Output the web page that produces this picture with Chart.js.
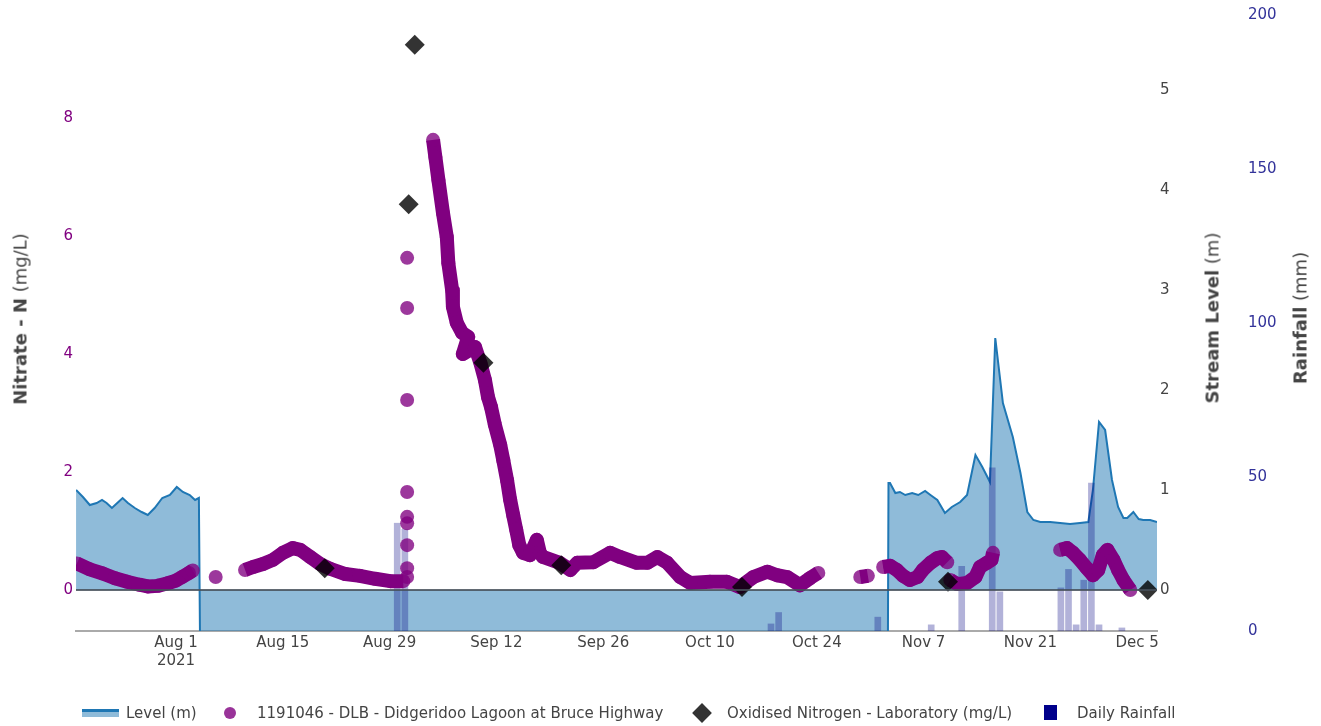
<!DOCTYPE html>
<html>
<head>
<meta charset="utf-8">
<script src="https://cdn.jsdelivr.net/npm/chart.js@4/dist/chart.umd.min.js"></script>
<style>
  html, body { margin: 0; padding: 0; background: #fff; }
  #wrap { position: relative; width: 1321px; height: 726px; font-family: 'DejaVu Sans', sans-serif; color: #444; }
  canvas { position: absolute; left: 0; top: 0; }
  .ttl { position: absolute; white-space: nowrap; font-size: 18px; color: #444;
         transform: translate(-50%, -50%) rotate(-90deg); }
  .ttl b { font-weight: bold; }
  .leg { position: absolute; top: 713px; transform: translateY(-50%); font-size: 15px; white-space: nowrap; color: #444; }
  .ico { position: absolute; top: 713px; }
</style>
</head>
<body>
<div id="wrap">
  <canvas id="chart" width="1321" height="726"></canvas>
  <div class="ttl" style="left:20px; top:319px;"><b>Nitrate - N</b> (mg/L)</div>
  <div class="ttl" style="left:1212px; top:318px;"><b>Stream Level</b> (m)</div>
  <div class="ttl" style="left:1300px; top:318px;"><b>Rainfall</b> (mm)</div>

  <div class="ico" style="left:82px; width:37px; height:5px; margin-top:-4px; border-top:3px solid #1f77b4; background:rgba(31,119,180,0.5);"></div>
  <div class="leg" style="left:126px;">Level (m)</div>
  <div class="ico" style="left:224px; width:12px; height:12px; margin-top:-6px; border-radius:50%; background:rgba(128,0,128,0.8);"></div>
  <div class="leg" style="left:257px;">1191046 - DLB - Didgeridoo Lagoon at Bruce Highway</div>
  <div class="ico" style="left:695px; width:14px; height:14px; margin-top:-7px; transform:rotate(45deg); background:#333;"></div>
  <div class="leg" style="left:727px;">Oxidised Nitrogen - Laboratory (mg/L)</div>
  <div class="ico" style="left:1044px; width:13px; height:15px; margin-top:-8px; background:#00008b;"></div>
  <div class="leg" style="left:1077px;">Daily Rainfall</div>
</div>
<script>
// days counted from 1 Aug 2021
const dateTicks  = [0, 14, 28, 42, 56, 70, 84, 98, 112, 126];
const dateLabels = [["Aug 1", "2021"], "Aug 15", "Aug 29", "Sep 12", "Sep 26", "Oct 10", "Oct 24", "Nov 7", "Nov 21", "Dec 5"];

const nitrateTicks = [0, 2, 4, 6, 8];
const levelTicks   = [0, 1, 2, 3, 4, 5];
const rainTicks    = [0, 50, 100, 150, 200];

// stream level (m); -1 marks the period with no level reading (plotted off scale)
const levelDays = [
  -13.1, -12.2, -11.3, -10.4, -9.7, -9.1, -8.4, -7.7, -7.0, -6.3, -5.4, -4.5, -3.7, -2.8, -1.8, -0.8,
  0.1, 0.9, 1.8, 2.5, 3.0, 3.2, 93.3, 93.4,
  93.6, 94.3, 94.9, 95.6, 96.5, 97.3, 98.2, 98.9, 99.8, 100.8, 101.7, 102.8, 103.7, 104.8, 105.7,
  106.7, 107.4, 108.4, 109.7, 110.7, 111.6, 112.4, 113.3, 114.6, 115.9, 117.2, 118.5, 119.6, 120.2,
  121.0, 121.8, 122.7, 123.5, 124.2, 124.7, 125.5, 126.2, 126.8, 127.7, 128.6
];
const levelValues = [
  1.00, 0.93, 0.85, 0.87, 0.90, 0.87, 0.82, 0.87, 0.92, 0.87, 0.82, 0.78, 0.75, 0.82, 0.92, 0.95,
  1.03, 0.98, 0.95, 0.90, 0.92, -1, -1, 1.07,
  1.07, 0.97, 0.98, 0.95, 0.97, 0.95, 0.99, 0.95, 0.90, 0.77, 0.83, 0.88, 0.95, 1.35, 1.23,
  1.08, 2.52, 1.87, 1.53, 1.17, 0.78, 0.70, 0.68, 0.68, 0.67, 0.66, 0.67, 0.68, 1.00,
  1.68, 1.60, 1.10, 0.83, 0.72, 0.72, 0.78, 0.71, 0.70, 0.70, 0.68
];

// continuous nitrate sensor (mg/L); null separates runs of readings
const nitrateDays = [
  -13.0, -11.3, -9.6, -8.0, -6.4, -4.8, -3.7, -2.4, -1.2, 0.0, 0.8, 1.7, 2.2, null,
  5.2, null,
  9.05, 10.1, 11.4, 12.7, 14.0, 15.3, 16.3, 17.6, 18.9, 20.2, 22.2, 24.1, 26.1, 28.1, 29.8, null,
  30.3, null, 30.3, null, 30.3, null, 30.3, null, 30.3, null, 30.3, null, 30.3, null, 30.3, null, 30.3, null,
  33.7, 34.0, 34.4, 35.0, 35.5, 35.7, 36.2, 36.3, 36.8, 37.5, 38.3, 37.6, 39.2, 39.9, 40.5, 40.9,
  41.3, 41.8, 42.5, 42.9, 43.4, 43.8, 44.2, 44.6, 45.0, 45.5, 46.4, 47.3, 47.7, 48.1, 50.3, 51.7,
  52.6, 54.7, 56.9, 58.2, 60.4, 61.8, 63.1, 64.4, 66.1, 67.4, 70.0, 72.2, 73.9, 75.7, 77.5, 78.8,
  80.1, 81.8, 83.1, 84.2, null,
  89.7, 90.7, null,
  92.7, 93.6, 94.5, 95.3, 96.2, 97.2, 97.9, 98.9, 99.8, 100.4, 101.1, null,
  101.5, 102.4, 103.7, 104.8, 105.4, 106.3, 106.9, 107.1, null,
  115.9, 116.8, 117.6, 118.5, 119.4, 120.2, 120.9, 121.5, 122.1, 122.9, 123.5, 124.2, 125.1
];
const nitrateValues = [
  0.45, 0.35, 0.28, 0.20, 0.14, 0.09, 0.06, 0.07, 0.11, 0.16, 0.22, 0.29, 0.33, null,
  0.22, null,
  0.34, 0.39, 0.44, 0.51, 0.63, 0.71, 0.68, 0.56, 0.44, 0.36, 0.27, 0.24, 0.19, 0.15, 0.15, null,
  0.22, null, 0.37, null, 0.76, null, 1.13, null, 1.24, null, 1.66, null, 3.22, null, 4.78, null, 5.63, null,
  7.63, 7.34, 6.95, 6.39, 5.98, 5.54, 5.08, 4.80, 4.53, 4.36, 4.29, 4.00, 4.12, 3.85, 3.56, 3.27,
  3.10, 2.80, 2.46, 2.20, 1.86, 1.53, 1.27, 1.02, 0.76, 0.63, 0.59, 0.85, 0.63, 0.56, 0.46, 0.34,
  0.46, 0.47, 0.63, 0.56, 0.46, 0.46, 0.56, 0.46, 0.22, 0.12, 0.14, 0.14, 0.05, 0.22, 0.31, 0.25,
  0.22, 0.08, 0.20, 0.29, null,
  0.22, 0.24, null,
  0.39, 0.41, 0.34, 0.24, 0.17, 0.22, 0.34, 0.46, 0.54, 0.56, 0.47, null,
  0.17, 0.10, 0.12, 0.22, 0.39, 0.46, 0.51, 0.63, null,
  0.68, 0.71, 0.63, 0.51, 0.37, 0.25, 0.34, 0.59, 0.68, 0.51, 0.34, 0.17, 0.00
];

// laboratory oxidised nitrogen samples (mg/L)
const labDays   = [19.5, 31.3, 30.5, 40.3, 50.5, 74.2, 101.2, 127.4];
const labValues = [0.37, 9.24, 6.54, 3.85, 0.42, 0.05, 0.14, 0.00];

// daily rainfall (mm)
const rainDays   = [29, 30, 78, 79, 92, 99, 103, 107, 108, 116, 117, 118, 119, 120, 121, 124];
const rainValues = [35, 33, 2.3, 6, 4.5, 2, 21, 53, 12.7, 14, 20, 2, 16.5, 48, 2, 1];

const pairs = (xs, ys) => xs.map((x, i) => ({ x: x, y: ys[i] }));
const fixTicks = list => axis => { axis.ticks = list.map(v => ({ value: v })); };

Chart.defaults.font.family = "'DejaVu Sans', sans-serif";
Chart.defaults.font.size = 15;
Chart.defaults.color = "#444";

new Chart(document.getElementById("chart"), {
  type: "line",
  data: {
    datasets: [
      {
        label: "Oxidised Nitrogen - Laboratory (mg/L)",
        data: pairs(labDays, labValues),
        yAxisID: "yNit",
        showLine: false,
        pointStyle: "rectRot",
        pointRadius: 10,
        pointBackgroundColor: "rgba(0,0,0,0.8)",
        pointBorderWidth: 0
      },
      {
        label: "1191046 - DLB - Didgeridoo Lagoon at Bruce Highway",
        data: pairs(nitrateDays, nitrateValues),
        yAxisID: "yNit",
        borderColor: "#800080",
        borderWidth: 14,
        borderCapStyle: "butt",
        borderJoinStyle: "round",
        tension: 0,
        spanGaps: false,
        pointRadius: 7,
        pointBackgroundColor: "rgba(128,0,128,0.78)",
        pointBorderWidth: 0
      },
      {
        type: "bar",
        label: "Daily Rainfall",
        data: pairs(rainDays, rainValues),
        yAxisID: "yRain",
        backgroundColor: "rgba(0,0,128,0.3)",
        barThickness: 6
      },
      {
        label: "Level (m)",
        data: pairs(levelDays, levelValues),
        yAxisID: "yLevel",
        borderColor: "#1f77b4",
        borderWidth: 2,
        backgroundColor: "rgba(31,119,180,0.5)",
        fill: "origin",
        tension: 0,
        pointRadius: 0
      }
    ]
  },
  options: {
    responsive: false,
    animation: false,
    devicePixelRatio: 1,
    layout: { padding: { top: 15, left: 0, right: 0, bottom: 0 } },
    plugins: { legend: { display: false }, tooltip: { enabled: false } },
    scales: {
      x: {
        type: "linear",
        offset: false,
        min: -13.11, max: 128.6,
        afterBuildTicks: fixTicks(dateTicks),
        afterFit: s => { s.height = 95; },
        ticks: {
          autoSkip: false, maxRotation: 0, padding: 3, color: "#444",
          callback: (v, i) => dateLabels[i]
        },
        grid: { display: true, offset: false, drawOnChartArea: false, drawTicks: false },
        border: { display: true, color: "#aaa", width: 2 }
      },
      yNit: {
        position: "left",
        min: -0.695, max: 9.746,
        afterBuildTicks: fixTicks(nitrateTicks),
        afterFit: s => { s.width = 76; },
        ticks: { color: "#800080", padding: 3 },
        grid: {
          drawTicks: false, z: 1, lineWidth: 2,
          color: c => c.tick && c.tick.value === 0 ? "rgba(70,80,90,0.85)" : "rgba(0,0,0,0)"
        },
        border: { display: false }
      },
      yLevel: {
        position: "right",
        weight: 0,
        min: -0.41, max: 5.75,
        afterBuildTicks: fixTicks(levelTicks),
        afterFit: s => { s.width = 88; },
        ticks: { color: "#444", padding: 3 },
        grid: { display: false, drawTicks: false },
        border: { display: false }
      },
      yRain: {
        position: "right",
        weight: 1,
        min: 0, max: 200,
        afterBuildTicks: fixTicks(rainTicks),
        afterFit: s => { s.width = 76; },
        ticks: { color: "#33339a", padding: 3 },
        grid: { display: false, drawTicks: false },
        border: { display: false }
      }
    }
  }
});
</script>
</body>
</html>
